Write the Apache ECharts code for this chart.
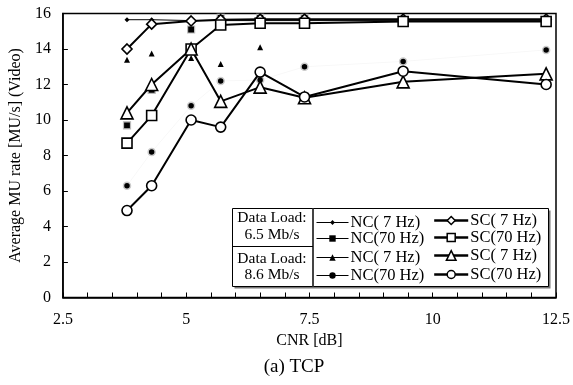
<!DOCTYPE html>
<html>
<head>
<meta charset="utf-8">
<script src="https://cdn.jsdelivr.net/npm/echarts@6/dist/echarts.min.js"></script>
<style>html,body{margin:0;padding:0;background:#fff}#c{width:573px;height:385px}</style>
</head>
<body>
<div id="c"></div>
<script>
// CNR values [dB]
var cnr = [3.8, 4.3, 5.1, 5.7, 6.5, 7.4, 9.4, 12.3];
// Data load 6.5 Mb/s
var nc7_65  = [15.65, 15.65, 15.6, 15.6, 15.6, 15.6, 15.6, 15.6];
var nc70_65 = [9.7, 11.7, 15.1, 15.75, 15.75, 15.75, 15.6, 15.6];
var sc7_65  = [14.0, 15.4, 15.58, 15.65, 15.68, 15.68, 15.68, 15.68];
var sc70_65 = [8.7, 10.25, 14.0, 15.35, 15.45, 15.45, 15.55, 15.55];
// Data load 8.6 Mb/s
var nc7_86  = [13.4, 13.75, 13.5, 13.15, 14.1, 15.6, 15.6, 15.6];
var nc70_86 = [6.3, 8.2, 10.8, 12.2, 12.25, 13.0, 13.3, 13.95];
var sc7_86  = [10.4, 12.0, 14.0, 11.05, 11.85, 11.25, 12.15, 12.6];
var sc70_86 = [4.9, 6.3, 10.0, 9.6, 12.7, 11.3, 12.75, 12.0];
// Labels
var xTickLabels = ['2.5', '5', '7.5', '10', '12.5'];
var legendNames = ['NC( 7 Hz)', 'NC(70 Hz)', 'NC( 7 Hz)', 'NC(70 Hz)', 'SC( 7 Hz)', 'SC(70 Hz)', 'SC( 7 Hz)', 'SC(70 Hz)'];

function pts(arr) { return arr.map(function (v, i) { return [cnr[i], v]; }); }
var FONT = 'Liberation Serif';

var seriesDefs = [
  {id: 'nc7_65', data: nc7_65, label: legendNames[0], symbol: 'diamond', size: 5, fill: '#000', border: '#000', bw: 0, line: '#000', lw: 1},
  {id: 'nc70_65', data: nc70_65, label: legendNames[1], symbol: 'rect', size: 7, fill: '#000', border: '#bbb', bw: 1.2, line: 'rgba(0,0,0,0)', lw: 1},
  {id: 'nc7_86', data: nc7_86, label: legendNames[2], symbol: 'triangle', size: 6, fill: '#000', border: '#000', bw: 0, line: 'rgba(0,0,0,0)', lw: 1},
  {id: 'nc70_86', data: nc70_86, label: legendNames[3], symbol: 'circle', size: 7, fill: '#000', border: '#ccc', bw: 1.5, line: 'rgba(0,0,0,0.03)', lw: 1},
  {id: 'sc7_65', data: sc7_65, label: legendNames[4], symbol: 'diamond', size: 10, fill: '#fff', border: '#000', bw: 1.6, line: '#000', lw: 2},
  {id: 'sc70_65', data: sc70_65, label: legendNames[5], symbol: 'rect', size: 10, fill: '#fff', border: '#000', bw: 1.6, line: '#000', lw: 2},
  {id: 'sc7_86', data: sc7_86, label: legendNames[6], symbol: 'triangle', size: 12, fill: '#fff', border: '#000', bw: 1.6, line: '#000', lw: 2},
  {id: 'sc70_86', data: sc70_86, label: legendNames[7], symbol: 'circle', size: 10, fill: '#fff', border: '#000', bw: 1.6, line: '#000', lw: 2}
];

var series = seriesDefs.map(function (s, k) {
  return {
    type: 'line', id: s.id, name: s.id, data: pts(s.data),
    symbol: s.symbol, symbolSize: s.size, showSymbol: true,
    lineStyle: {color: s.line, width: s.lw},
    itemStyle: {color: s.fill, borderColor: s.border, borderWidth: s.bw, opacity: 1},
    z: k < 4 ? 3 : 4, animation: false, silent: true
  };
});

// legend layout: rows y centers, NC column and SC column
var rowY = [217, 234, 253, 271];
var legendOrder = [['nc7_65', 'sc7_65'], ['nc70_65', 'sc70_65'], ['nc7_86', 'sc7_86'], ['nc70_86', 'sc70_86']];
var labelMap = {};
seriesDefs.forEach(function (s) { labelMap[s.id] = s.label; });
var legends = [];
legendOrder.forEach(function (row, r) {
  row.forEach(function (id, c) {
    var def = seriesDefs.filter(function (s) { return s.id === id; })[0];
    var ih = c === 0 ? (def.symbol === 'diamond' ? 6 : 8) : (def.symbol === 'triangle' ? 12 : 10);
    legends.push({
      data: [id], left: c === 0 ? 316 : 433, top: rowY[r] - ih / 2,
      itemWidth: c === 0 ? 32 : 34, itemHeight: ih, padding: 0, itemGap: 0,
      selectedMode: false, z: 10,
      formatter: function (n) { return labelMap[n]; },
      textStyle: {fontFamily: FONT, fontSize: 16.5, color: '#000', padding: [0, 0, 0, -3]},
      lineStyle: {color: '#000', width: c === 0 ? 1 : 2.4, opacity: 1},
      itemStyle: {color: def.fill, borderColor: c === 0 ? def.fill : '#000', borderWidth: c === 0 ? 0 : 1.5}
    });
  });
});

var chart = echarts.init(document.getElementById('c'), null, {renderer: 'canvas'});
chart.setOption({
  backgroundColor: '#fff',
  animation: false,
  grid: {left: 55.5, right: 16, top: 13.5, bottom: 87.5, show: true, borderColor: '#000', borderWidth: 1.5, backgroundColor: 'transparent'},
  xAxis: {
    type: 'value', min: 2.5, max: 12.5, interval: 2.5,
    name: 'CNR [dB]', nameLocation: 'middle', nameGap: 31,
    nameTextStyle: {fontFamily: FONT, fontSize: 16, color: '#000'},
    axisLine: {lineStyle: {color: '#000', width: 1.5}},
    axisTick: {inside: true, length: 5, lineStyle: {color: '#000', width: 1}},
    minorTick: {show: true, splitNumber: 5, length: 5, lineStyle: {color: '#000', width: 1}},
    splitLine: {show: false},
    axisLabel: {fontFamily: FONT, fontSize: 16, color: '#000', margin: 14,
      formatter: function (v) { var i = Math.round((v - 2.5) / 2.5); return xTickLabels[i] !== undefined ? xTickLabels[i] : ''; }}
  },
  yAxis: {
    type: 'value', min: 0, max: 16, interval: 2,
    name: 'Average MU rate [MU/s] (Video)', nameLocation: 'middle', nameGap: 38, nameRotate: 90,
    nameTextStyle: {fontFamily: FONT, fontSize: 16, color: '#000'},
    axisLine: {lineStyle: {color: '#000', width: 1.5}},
    axisTick: {inside: true, length: 5, lineStyle: {color: '#000', width: 1}},
    splitLine: {show: false},
    axisLabel: {fontFamily: FONT, fontSize: 16, color: '#000', margin: 12}
  },
  legend: legends,
  series: series,
  graphic: [
    {type: 'rect', z: 5, shape: {x: 234.5, y: 210.5, width: 316, height: 78}, style: {fill: '#777'}},
    {type: 'rect', z: 6, shape: {x: 232.5, y: 208.5, width: 316, height: 78}, style: {fill: '#fff', stroke: '#000', lineWidth: 1}},
    {type: 'line', z: 7, shape: {x1: 313, y1: 208.5, x2: 313, y2: 286.5}, style: {stroke: '#444', lineWidth: 2}},
    {type: 'line', z: 7, shape: {x1: 232.5, y1: 246.5, x2: 313, y2: 246.5}, style: {stroke: '#000', lineWidth: 1}},
    {type: 'text', z: 8, x: 272, y: 218, style: {text: 'Data Load:', font: '15.5px "Liberation Serif"', fill: '#000', align: 'center', verticalAlign: 'middle'}},
    {type: 'text', z: 8, x: 272, y: 235, style: {text: '6.5 Mb/s', font: '15.5px "Liberation Serif"', fill: '#000', align: 'center', verticalAlign: 'middle'}},
    {type: 'text', z: 8, x: 272, y: 259, style: {text: 'Data Load:', font: '15.5px "Liberation Serif"', fill: '#000', align: 'center', verticalAlign: 'middle'}},
    {type: 'text', z: 8, x: 272, y: 275, style: {text: '8.6 Mb/s', font: '15.5px "Liberation Serif"', fill: '#000', align: 'center', verticalAlign: 'middle'}},
    {type: 'text', z: 8, x: 294, y: 367, style: {text: '(a) TCP', font: '19px "Liberation Serif"', fill: '#000', align: 'center', verticalAlign: 'middle'}}
  ]
});
</script>
</body>
</html>
